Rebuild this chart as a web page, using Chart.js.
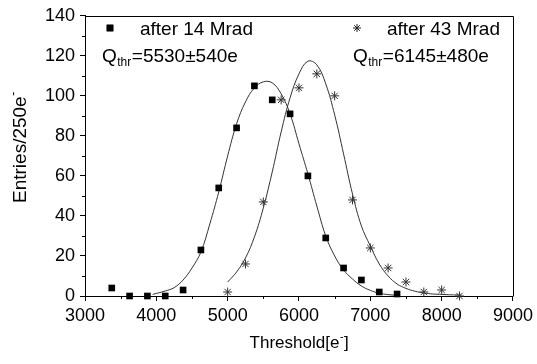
<!DOCTYPE html>
<html>
<head>
<meta charset="utf-8">
<script src="https://cdn.jsdelivr.net/npm/chart.js@4.4.1/dist/chart.umd.min.js"></script>
<style>
  html, body { margin: 0; padding: 0; background: #fff; }
  canvas { display: block; }
</style>
</head>
<body>
<canvas id="thrChart" width="537" height="364"></canvas>
<script>
// Threshold distributions after 14 and 43 Mrad

const bins14 = [3375, 3625, 3875, 4125, 4375, 4625, 4875, 5125, 5375, 5625, 5875, 6125, 6375, 6625, 6875, 7125, 7375];
const entries14 = [4, 0, 0, 0, 3, 23, 54, 84, 105, 98, 91, 60, 29, 14, 8, 2, 1];

const bins43 = [5000, 5250, 5500, 5750, 6000, 6250, 6500, 6750, 7000, 7250, 7500, 7750, 8000, 8250];
const entries43 = [2, 16, 47, 98, 104, 111, 100, 48, 24, 14, 7, 2, 3, 0];

// gaussian fit curves
const fitX14 = [3950, 4125, 4250, 4375, 4500, 4625, 4750, 4875, 5000, 5125, 5250, 5375, 5500, 5625, 5750, 5875, 6000, 6125, 6250, 6375, 6500, 6625, 6750, 6875, 7000, 7125, 7250, 7400];
const fitY14 = [0.8, 2.5, 4.2, 8, 14, 22, 36, 52, 70, 86, 97, 104, 107, 106.5, 101, 91, 76, 61, 45, 30, 20, 13, 8.5, 5, 2.8, 1.4, 0.7, 0.3];

const fitX43 = [5000, 5125, 5250, 5375, 5500, 5625, 5750, 5875, 6000, 6125, 6250, 6375, 6500, 6625, 6750, 6875, 7000, 7125, 7250, 7375, 7500, 7625, 7750, 7875, 8000, 8125, 8275];
const fitY43 = [7, 12, 19, 29.5, 44, 62, 82, 99, 111, 117.3, 115.5, 106, 90.5, 71, 51, 35, 25, 16, 10, 6, 3.8, 2.4, 1.5, 1.0, 0.8, 0.6, 0.5];

const xTickValues = [3000, 4000, 5000, 6000, 7000, 8000, 9000];
const yTickValues = [0, 20, 40, 60, 80, 100, 120, 140];
const xMinorValues = [3500, 4500, 5500, 6500, 7500, 8500];
const yMinorValues = [10, 30, 50, 70, 90, 110, 130];

const legendLabels = ['after 14 Mrad', 'after 43 Mrad'];
const legendQ = ['=5530\u00b1540e', '=6145\u00b1480e'];

const FONT = '"Liberation Sans", Arial, Helvetica, sans-serif';

function toXY(xs, ys) {
    return xs.map(function (x, i) { return { x: x, y: ys[i] }; });
}

// frame, minor ticks, axis titles and the legend texts
const decorPlugin = {
    id: 'decor',
    afterDraw: function (chart) {
        const ctx = chart.ctx;
        const area = chart.chartArea;
        const xs = chart.scales.x;
        const ys = chart.scales.y;
        ctx.save();
        ctx.strokeStyle = '#000';
        ctx.lineWidth = 1;
        ctx.beginPath();
        ctx.moveTo(Math.round(area.left) + 0.5, Math.round(area.top) + 0.5);
        ctx.lineTo(Math.round(area.right) + 0.5, Math.round(area.top) + 0.5);
        ctx.lineTo(Math.round(area.right) + 0.5, Math.round(area.bottom) + 0.5);
        ctx.stroke();

        // minor ticks
        ctx.beginPath();
        xMinorValues.forEach(function (v) {
            const px = Math.round(xs.getPixelForValue(v)) + 0.5;
            ctx.moveTo(px, area.bottom);
            ctx.lineTo(px, area.bottom + 3);
        });
        yMinorValues.forEach(function (v) {
            const py = Math.round(ys.getPixelForValue(v)) + 0.5;
            ctx.moveTo(area.left, py);
            ctx.lineTo(area.left - 3, py);
        });
        ctx.stroke();

        ctx.fillStyle = '#000';
        ctx.textBaseline = 'alphabetic';
        ctx.textAlign = 'left';

        // x title
        ctx.font = '17px ' + FONT;
        let t = 'Threshold[e';
        let w = ctx.measureText(t).width;
        let x0 = (area.left + area.right) / 2 - (w + 9) / 2;
        ctx.fillText(t, x0, 348);
        ctx.font = '11px ' + FONT;
        ctx.fillText('-', x0 + w + 0.5, 340);
        ctx.font = '17px ' + FONT;
        ctx.fillText(']', x0 + w + 4.5, 348);

        // y title
        ctx.save();
        ctx.translate(26, 203);
        ctx.rotate(-Math.PI / 2);
        ctx.font = '19px ' + FONT;
        t = 'Entries/250e';
        w = ctx.measureText(t).width;
        ctx.fillText(t, 0, 0);
        ctx.font = '12px ' + FONT;
        ctx.fillText('-', w + 0.5, -9);
        ctx.restore();

        // legend
        Chart.helpers.drawPoint(ctx, { pointStyle: 'rect', radius: 4.7, rotation: 0, borderWidth: 0 }, 110, 28);
        ctx.fillStyle = '#000';
        ctx.fill();
        ctx.strokeStyle = '#222';
        ctx.lineWidth = 1;
        Chart.helpers.drawPoint(ctx, { pointStyle: 'star', radius: 4, rotation: 0, borderWidth: 1 }, 357, 28);

        ctx.font = '19px ' + FONT;
        ctx.fillText(legendLabels[0], 140, 35);
        ctx.fillText(legendLabels[1], 387, 35);

        [[102, legendQ[0]], [353, legendQ[1]]].forEach(function (item) {
            ctx.font = '19px ' + FONT;
            ctx.fillText('Q', item[0], 62);
            const qw = ctx.measureText('Q').width;
            ctx.font = '12px ' + FONT;
            ctx.fillText('thr', item[0] + qw + 0.5, 66);
            const sw = ctx.measureText('thr').width;
            ctx.font = '19px ' + FONT;
            ctx.fillText(item[1], item[0] + qw + sw + 1, 62);
        });
        ctx.restore();
    }
};

const ctx = document.getElementById('thrChart').getContext('2d');
const thrChart = new Chart(ctx, {
    type: 'scatter',
    data: {
        datasets: [{
            label: legendLabels[0],
            data: toXY(bins14, entries14),
            pointStyle: 'rect',
            pointRadius: 4.7,
            pointBackgroundColor: '#000',
            pointBorderWidth: 0,
            clip: false,
            order: 1
        }, {
            label: legendLabels[1],
            data: toXY(bins43, entries43),
            pointStyle: 'star',
            pointRadius: 4.5,
            pointBorderColor: '#333',
            pointBorderWidth: 1,
            clip: false,
            order: 2
        }, {
            label: 'fit 14 Mrad',
            data: toXY(fitX14, fitY14),
            showLine: true,
            pointRadius: 0,
            borderColor: '#333',
            borderWidth: 1,
            tension: 0.4,
            order: 3
        }, {
            label: 'fit 43 Mrad',
            data: toXY(fitX43, fitY43),
            showLine: true,
            pointRadius: 0,
            borderColor: '#333',
            borderWidth: 1,
            tension: 0.4,
            order: 4
        }]
    },
    options: {
        responsive: false,
        animation: false,
        devicePixelRatio: 1,
        layout: { padding: { top: 14, right: 23, left: 0, bottom: 0 } },
        plugins: {
            legend: { display: false },
            tooltip: { enabled: false }
        },
        scales: {
            x: {
                type: 'linear',
                min: 3000,
                max: 9000,
                afterBuildTicks: function (scale) {
                    scale.ticks = xTickValues.map(function (v) { return { value: v }; });
                },
                afterFit: function (scale) { scale.height = 68; },
                ticks: {
                    color: '#000',
                    font: { family: FONT, size: 18 },
                    padding: 4,
                    maxRotation: 0,
                    autoSkip: false,
                    callback: function (v) { return String(v); }
                },
                grid: {
                    drawOnChartArea: false,
                    drawTicks: true,
                    tickLength: 5,
                    tickColor: '#000'
                },
                border: { display: true, color: '#000', width: 1 }
            },
            y: {
                type: 'linear',
                min: 0,
                max: 140,
                afterBuildTicks: function (scale) {
                    scale.ticks = yTickValues.map(function (v) { return { value: v }; });
                },
                afterFit: function (scale) { scale.width = 85; },
                ticks: {
                    color: '#000',
                    font: { family: FONT, size: 18 },
                    padding: 5,
                    autoSkip: false,
                    callback: function (v) { return String(v); }
                },
                grid: {
                    drawOnChartArea: false,
                    drawTicks: true,
                    tickLength: 5,
                    tickColor: '#000'
                },
                border: { display: true, color: '#000', width: 1 }
            }
        }
    },
    plugins: [decorPlugin]
});
</script>
</body>
</html>
